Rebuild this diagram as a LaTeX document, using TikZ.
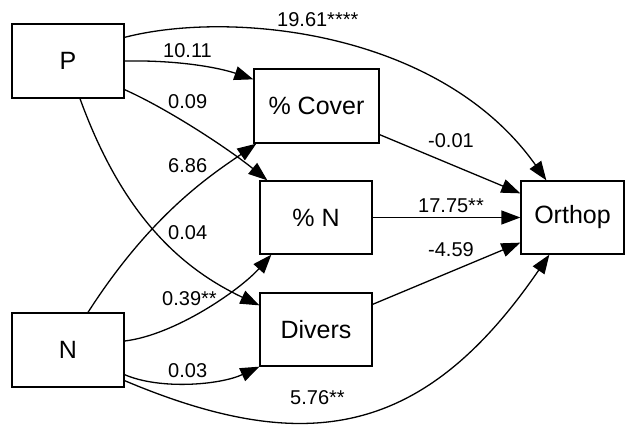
\documentclass[tikz,border=0pt]{standalone}
\usepackage{fontspec}
\setmainfont{Liberation Sans}
\usetikzlibrary{arrows.meta}
\begin{document}
\begin{tikzpicture}[x=1pt,y=-1pt,
  box/.style={draw, line width=1.3pt, inner sep=0pt, font=\fontsize{25}{29}\selectfont},
  conn/.style={line width=1.3pt, -{Triangle[length=19pt,width=14pt]}},
  lbl/.style={anchor=base west, inner sep=0pt, font=\fontsize{20}{24}\selectfont}]
\useasboundingbox (0,0) rectangle (626,428);
\node[box, minimum width=112pt, minimum height=74pt] (P) at (68,61) {P};
\node[box, minimum width=125pt, minimum height=74pt] (Cover) at (316.5,106) {\% Cover};
\node[box, minimum width=112pt, minimum height=73pt] (pN) at (316,217.5) {\% N};
\node[box, minimum width=112pt, minimum height=73pt] (Divers) at (316,329.5) {Divers};
\node[box, minimum width=103pt, minimum height=73pt] (Orthop) at (572.5,217.5) {Orthop};
\node[box, minimum width=112pt, minimum height=74pt] (N) at (68,350) {N};

% P edges
\draw[conn] ([yshift=-14pt]P.north east) .. controls (230,10) and (440,30) .. ([xshift=26pt]Orthop.north west);
\draw[conn] (P.east) .. controls (180,60) and (220,68) .. ([yshift=-11pt]Cover.north west);
\draw[conn] ([yshift=9pt]P.south east) .. controls (170,110) and (230,150) .. ([xshift=8pt]pN.north west);
\draw[conn] ([xshift=12pt]P.south) .. controls (124,220) and (185,270) .. ([yshift=-13pt]Divers.north west);
% N edges
\draw[conn] ([xshift=20pt]N.north) .. controls (153,211) and (215,172.5) .. ([xshift=3pt]Cover.south west);
\draw[conn] ([yshift=9pt]N.east) .. controls (175,335) and (240,290) .. ([xshift=12pt]pN.south west);
\draw[conn] ([yshift=13pt]N.south east) .. controls (160,390) and (220,385) .. (Divers.south west);
\draw[conn] ([yshift=7pt]N.south east) .. controls (308,458) and (425,436) .. ([xshift=29pt]Orthop.south west);
% middle to Orthop
\draw[conn] ([yshift=9pt]Cover.south east) -- ([yshift=-13pt]Orthop.north west);
\draw[conn] (pN.east) -- (Orthop.west);
\draw[conn] ([yshift=-12pt]Divers.north east) -- ([yshift=12pt]Orthop.south west);

% labels
\node[lbl] (l1) at (277,27) {19.61****};
\node[lbl] (l2) at (163,58) {10.11};
\node[lbl] (l3) at (168,108) {0.09};
\node[lbl] (l4) at (168,172) {6.86};
\node[lbl] (l5) at (168,239) {0.04};
\node[lbl] (l6) at (162,305) {0.39**};
\node[lbl] (l7) at (168,377) {0.03};
\node[lbl] (l8) at (290,404) {5.76**};
\node[lbl] (l9) at (428,147) {-0.01};
\node[lbl] (l10) at (418,212) {17.75**};
\node[lbl] (l11) at (428,256) {-4.59};
\end{tikzpicture}
\end{document}
